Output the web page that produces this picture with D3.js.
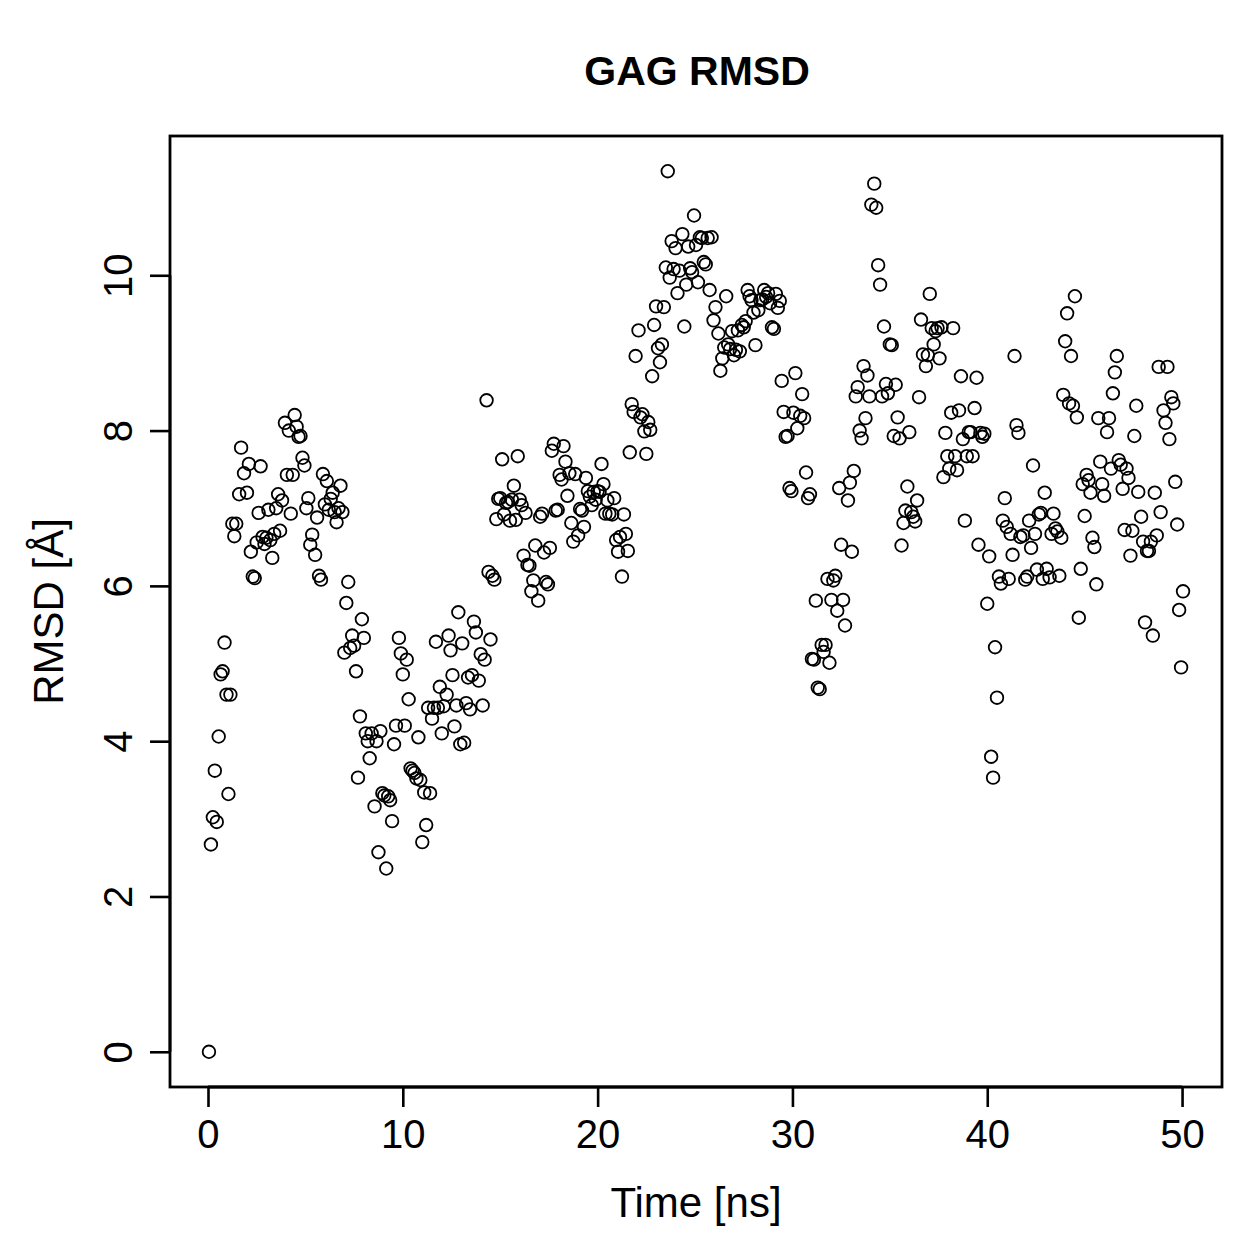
<!DOCTYPE html>
<html><head><meta charset="utf-8">
<script src="https://cdn.jsdelivr.net/npm/d3@7"></script>
<style>body{margin:0;background:#fff}</style>
</head><body>
<script>
const title = "GAG RMSD";
const xLabel = "Time [ns]";
const yLabel = "RMSD [Å]";
const xTicks = [0,10,20,30,40,50];
const yTicks = [0,2,4,6,8,10];
const timeNs = [0.05,0.15,0.25,0.35,0.45,0.55,0.65,0.75,0.85,0.95,1.05,1.15,1.25,1.35,1.45,1.6,1.7,1.85,2.0,2.1,2.2,2.3,2.4,2.5,2.6,2.7,2.8,2.9,3.0,3.1,3.2,3.3,3.4,3.5,3.6,3.7,3.8,3.95,4.05,4.15,4.25,4.35,4.45,4.55,4.65,4.75,4.85,4.95,5.05,5.15,5.25,5.35,5.5,5.6,5.7,5.8,5.9,6.0,6.1,6.2,6.3,6.4,6.5,6.6,6.7,6.8,6.9,7.0,7.1,7.2,7.3,7.4,7.5,7.6,7.7,7.8,7.9,8.0,8.1,8.2,8.3,8.4,8.55,8.65,8.75,8.85,8.95,9.05,9.15,9.25,9.35,9.45,9.55,9.65,9.8,9.9,10.0,10.1,10.2,10.3,10.4,10.5,10.6,10.7,10.8,10.9,11.0,11.1,11.2,11.3,11.4,11.5,11.6,11.7,11.8,11.9,12.0,12.1,12.25,12.35,12.45,12.55,12.65,12.75,12.85,12.95,13.05,13.15,13.25,13.35,13.45,13.55,13.65,13.75,13.9,14.0,14.1,14.2,14.3,14.4,14.5,14.6,14.7,14.8,14.9,15.0,15.1,15.2,15.3,15.4,15.5,15.6,15.7,15.8,15.9,16.0,16.1,16.2,16.3,16.4,16.5,16.6,16.7,16.8,16.95,17.05,17.15,17.25,17.35,17.45,17.55,17.65,17.75,17.85,17.95,18.05,18.15,18.25,18.35,18.45,18.55,18.65,18.75,18.85,19.0,19.1,19.2,19.3,19.4,19.5,19.6,19.7,19.8,19.9,20.0,20.1,20.2,20.3,20.4,20.5,20.6,20.75,20.85,20.95,21.05,21.15,21.25,21.35,21.45,21.55,21.65,21.75,21.85,21.95,22.1,22.2,22.3,22.4,22.5,22.6,22.7,22.8,22.9,23.0,23.1,23.2,23.3,23.4,23.5,23.6,23.7,23.8,23.9,24.0,24.1,24.2,24.35,24.45,24.55,24.65,24.75,24.85,24.95,25.05,25.15,25.25,25.35,25.45,25.55,25.65,25.75,25.85,25.95,26.05,26.2,26.3,26.4,26.5,26.6,26.7,26.8,26.9,27.0,27.1,27.2,27.3,27.4,27.5,27.6,27.7,27.8,27.9,28.0,28.1,28.25,28.35,28.45,28.55,28.65,28.75,28.85,28.95,29.05,29.15,29.25,29.35,29.45,29.55,29.65,29.75,29.85,29.95,30.05,30.15,30.25,30.4,30.5,30.6,30.7,30.8,30.9,31.0,31.1,31.2,31.3,31.4,31.5,31.6,31.7,31.8,31.9,32.0,32.1,32.2,32.3,32.4,32.5,32.6,32.7,32.85,32.95,33.05,33.15,33.25,33.35,33.45,33.55,33.65,33.75,33.85,33.95,34.05,34.2,34.3,34.4,34.5,34.6,34.7,34.8,34.9,35.0,35.1,35.2,35.3,35.4,35.5,35.6,35.7,35.8,35.9,36.0,36.1,36.2,36.3,36.4,36.5,36.6,36.7,36.85,36.95,37.05,37.15,37.25,37.35,37.45,37.55,37.65,37.75,37.85,37.95,38.05,38.15,38.25,38.35,38.45,38.55,38.65,38.75,38.85,38.95,39.05,39.15,39.25,39.35,39.45,39.55,39.65,39.75,39.85,40.0,40.1,40.2,40.3,40.4,40.5,40.6,40.7,40.8,40.9,41.0,41.1,41.2,41.3,41.4,41.5,41.6,41.7,41.85,41.95,42.05,42.15,42.25,42.35,42.45,42.55,42.65,42.75,42.85,42.95,43.05,43.2,43.3,43.4,43.5,43.6,43.7,43.8,43.9,44.0,44.1,44.2,44.3,44.4,44.5,44.6,44.7,44.8,44.9,45.0,45.1,45.2,45.3,45.4,45.5,45.6,45.7,45.8,45.9,46.0,46.15,46.25,46.35,46.45,46.55,46.65,46.75,46.85,46.95,47.05,47.15,47.25,47.35,47.45,47.55,47.65,47.75,47.9,48.0,48.1,48.2,48.3,48.4,48.5,48.6,48.7,48.8,48.9,49.05,49.15,49.25,49.35,49.45,49.55,49.65,49.75,49.85,49.95,50.05];
const rmsd = [0,2.67,3.02,3.62,2.96,4.06,4.86,4.9,5.27,4.6,3.32,4.6,6.8,6.64,6.8,7.18,7.78,7.45,7.2,7.57,6.44,6.12,6.1,6.56,6.94,7.54,6.63,6.54,6.62,6.98,6.59,6.36,6.67,7.0,7.18,6.71,7.1,8.1,7.43,8.0,6.93,7.43,8.2,8.05,7.92,7.93,7.65,7.55,7.0,7.13,6.53,6.66,6.4,6.88,6.13,6.08,7.44,7.05,7.35,6.98,7.12,7.2,6.95,6.82,7.0,7.29,6.95,5.14,5.78,6.05,5.2,5.36,5.23,4.9,3.53,4.32,5.57,5.33,4.1,4.0,3.78,4.1,3.16,4.0,2.57,4.13,3.33,3.3,2.36,3.29,3.24,2.97,3.96,4.2,5.33,5.13,4.86,4.2,5.05,4.54,3.65,3.62,3.59,3.52,4.05,3.5,2.7,3.34,2.92,4.43,3.33,4.29,4.43,5.28,4.43,4.7,4.1,4.45,4.6,5.36,5.17,4.85,4.19,4.46,5.66,3.96,5.26,3.98,4.49,4.82,4.41,4.85,5.54,5.4,4.78,5.12,4.46,5.05,8.39,6.18,5.31,6.13,6.08,6.86,7.12,7.13,7.63,6.92,7.07,7.08,6.84,7.11,7.29,6.85,7.67,7.11,7.04,6.39,6.94,6.27,6.26,5.93,6.07,6.52,5.81,6.89,6.93,6.43,6.05,6.02,6.49,7.74,7.83,6.97,6.98,7.43,7.37,7.8,7.6,7.16,7.45,6.81,6.57,7.44,6.65,6.99,6.97,6.76,7.39,7.22,7.15,7.04,7.21,7.11,7.22,7.21,7.57,7.31,6.93,7.1,6.93,6.92,7.13,6.59,6.44,6.63,6.12,6.92,6.67,6.45,7.72,8.34,8.24,8.96,9.29,8.17,8.21,7.99,7.7,8.11,8.01,8.7,9.36,9.6,9.06,8.88,9.11,9.59,10.1,11.34,9.97,10.44,10.08,10.35,9.77,10.06,10.53,9.34,9.88,10.37,10.09,10.04,10.77,10.39,9.91,10.49,10.48,10.17,10.14,10.48,9.81,10.49,9.42,9.59,9.25,8.77,8.93,9.07,9.73,9.11,9.05,9.28,8.97,9.04,9.29,9.02,9.36,9.33,9.41,9.81,9.73,9.68,9.52,9.1,9.55,9.68,9.69,9.81,9.72,9.77,9.64,9.33,9.31,9.76,9.58,9.67,8.64,8.24,7.92,7.93,7.26,7.22,8.23,8.74,8.03,8.19,8.47,8.16,7.46,7.13,7.18,5.06,5.05,5.81,4.69,4.67,5.24,5.15,5.24,6.09,5.01,5.82,6.07,6.13,5.68,7.26,6.53,5.82,5.49,7.1,7.33,6.44,7.48,8.44,8.56,8.0,7.9,8.83,8.16,8.71,8.44,10.91,11.18,10.87,10.13,9.88,8.44,9.34,8.6,8.48,9.11,9.1,7.93,8.59,8.17,7.9,6.52,6.81,6.97,7.28,7.98,6.95,6.89,6.83,7.1,8.43,9.43,8.98,8.83,8.97,9.76,9.32,9.11,9.28,9.32,8.93,9.33,7.4,7.97,7.67,7.51,8.23,9.32,7.67,7.49,8.26,8.7,7.89,6.84,7.67,7.98,7.98,7.67,8.29,8.68,6.53,7.97,7.92,7.96,5.77,6.38,3.8,3.53,5.21,4.56,6.12,6.03,6.84,7.13,6.76,6.09,6.67,6.4,8.96,8.07,7.97,6.63,6.65,6.08,6.12,6.84,6.49,7.55,6.67,6.21,6.92,6.94,6.09,7.2,6.22,6.11,6.67,6.93,6.74,6.7,6.13,6.62,8.46,9.15,9.51,8.35,8.96,8.32,9.73,8.17,5.59,6.22,7.31,6.9,7.43,7.36,7.2,6.62,6.5,6.02,8.16,7.6,7.31,7.16,7.98,8.16,7.51,8.48,8.75,8.96,7.62,7.56,7.25,6.72,7.51,7.39,6.39,6.71,7.93,8.32,7.21,6.89,6.57,5.53,6.45,6.45,6.57,5.36,7.2,6.65,8.82,6.95,8.26,8.1,8.82,7.89,8.43,8.35,7.34,6.79,5.69,4.95,5.93];

const W = 1259, H = 1259;
const mLeft = 170, mRight = 1222, mTop = 136, mBottom = 1087;
const font = "Liberation Sans, Arial, Helvetica, sans-serif";

const svg = d3.select("body").append("svg").attr("width", W).attr("height", H);

// R-style 4% padding of the data range
const xe = d3.extent(timeNs), ye = d3.extent(rmsd);
const xp = (xe[1]-xe[0])*0.04, yp = (ye[1]-ye[0])*0.04;
const x = d3.scaleLinear().domain([xe[0]-xp, xe[1]+xp]).range([mLeft, mRight]);
const y = d3.scaleLinear().domain([ye[0]-yp, ye[1]+yp]).range([mBottom, mTop]);

const n = Math.min(timeNs.length, rmsd.length);
svg.append("g").selectAll("circle").data(d3.range(n)).join("circle")
  .attr("cx", i => x(timeNs[i])).attr("cy", i => y(rmsd[i])).attr("r", 6.3)
  .attr("fill", "none").attr("stroke", "#000").attr("stroke-width", 1.8);

svg.append("rect").attr("x", mLeft).attr("y", mTop).attr("width", mRight-mLeft).attr("height", mBottom-mTop)
  .attr("fill", "none").attr("stroke", "#000").attr("stroke-width", 2.8);

const xa = svg.append("g").attr("transform", `translate(0,${mBottom})`)
  .call(d3.axisBottom(x).tickValues(xTicks).tickSize(20).tickSizeOuter(0));
xa.select(".domain").attr("d", `M${x(xTicks[0])},0H${x(xTicks[xTicks.length-1])}`).attr("stroke-width", 2.8);
xa.selectAll(".tick line").attr("stroke-width", 2.6);
xa.selectAll("text").attr("font-family", font).attr("font-size", 40).attr("fill", "#000")
  .attr("y", 61).attr("dy", 0);

const ya = svg.append("g").attr("transform", `translate(${mLeft},0)`)
  .call(d3.axisLeft(y).tickValues(yTicks).tickSize(20).tickSizeOuter(0));
ya.select(".domain").attr("d", `M0,${y(yTicks[0])}V${y(yTicks[yTicks.length-1])}`).attr("stroke-width", 2.8);
ya.selectAll(".tick line").attr("stroke-width", 2.6);
ya.selectAll("text").attr("font-family", font).attr("font-size", 40).attr("fill", "#000")
  .attr("x", 0).attr("dy", 0).attr("text-anchor", "middle")
  .attr("transform", "translate(-38,0) rotate(-90)");

svg.append("text").attr("x", 697).attr("y", 85).attr("text-anchor", "middle")
  .attr("font-family", font).attr("font-size", 41).attr("font-weight", "bold").text(title);
svg.append("text").attr("x", (mLeft+mRight)/2).attr("y", 1217).attr("text-anchor", "middle")
  .attr("font-family", font).attr("font-size", 42).text(xLabel);
svg.append("text").attr("transform", `translate(63,${(mTop+mBottom)/2}) rotate(-90)`).attr("text-anchor", "middle")
  .attr("font-family", font).attr("font-size", 42).text(yLabel);
</script>
</body></html>
